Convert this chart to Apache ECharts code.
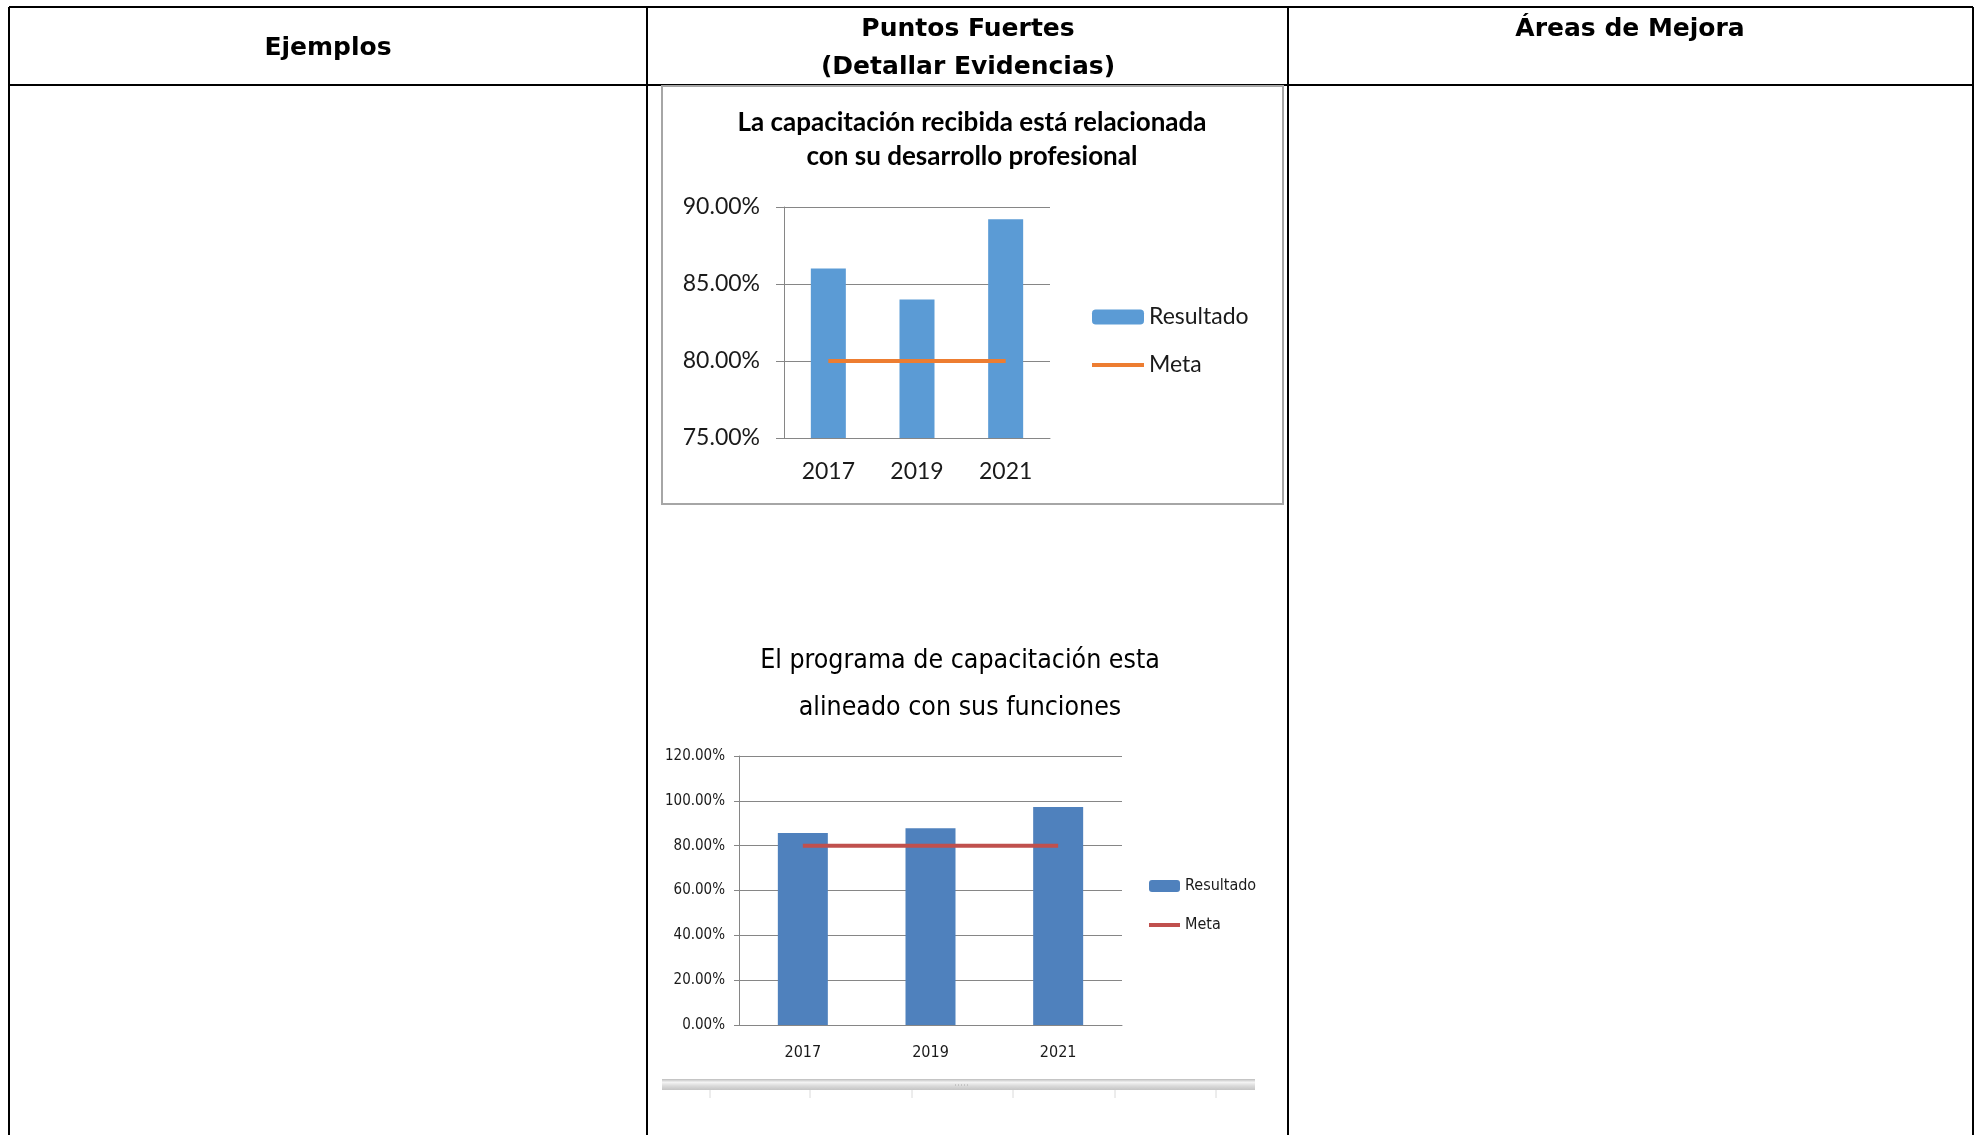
<!DOCTYPE html>
<html>
<head>
<meta charset="utf-8">
<script src="https://cdn.jsdelivr.net/npm/echarts@6/dist/echarts.min.js"></script>
<style>
  html, body { margin: 0; padding: 0; background: #fff; }
  #chart { width: 1977px; height: 1135px; }
</style>
</head>
<body>
<div id="chart"></div>
<script>
// categories and values
const years = ['2017', '2019', '2021']
const resultadoRelacionada = [86.0, 84.0, 89.2]
const metaRelacionada = [80, 80, 80]
const resultadoAlineado = [85.6, 87.8, 97.2]
const metaAlineado = [80, 80, 80]
const ticksTop = [75, 80, 85, 90]
const ticksBottom = [0, 20, 40, 60, 80, 100, 120]
const headers = ['Ejemplos', 'Puntos Fuertes\n(Detallar Evidencias)', 'Áreas de Mejora']

const narrow = '"Liberation Sans Narrow", "DejaVu Sans Condensed", "Roboto", sans-serif'
const gray = '#868686'
const pct = v => v.toFixed(2) + '%'

let myChart = echarts.init(document.getElementById('chart'))

// table lines
let tableLines = [
  [9, 7, 1973, 7],
  [9, 85, 1973, 85],
  [9, 7, 9, 1135],
  [647, 7, 647, 1135],
  [1288, 7, 1288, 1135],
  [1973, 7, 1973, 1135]
].map(l => ({
  type: 'line',
  shape: { x1: l[0], y1: l[1], x2: l[2], y2: l[3] },
  style: { stroke: '#000', lineWidth: 2 }
}))

let headerText = [
  { x: 328, y: 48, text: headers[0] },
  { x: 968, y: 48, text: headers[1] },
  { x: 1630, y: 29, text: headers[2] }
].map(h => ({
  type: 'text',
  x: h.x,
  y: h.y,
  style: {
    text: h.text,
    font: 'bold 25px "DejaVu Sans", sans-serif',
    fill: '#000',
    align: 'center',
    verticalAlign: 'middle',
    lineHeight: 38
  }
}))

// strip under the second chart
let strip = [
  {
    type: 'rect',
    shape: { x: 662, y: 1079, width: 593, height: 11 },
    style: {
      fill: new echarts.graphic.LinearGradient(0, 0, 0, 1, [
        { offset: 0, color: '#bdbdbd' },
        { offset: 0.3, color: '#f4f4f4' },
        { offset: 0.6, color: '#dcdcdc' },
        { offset: 1, color: '#c4c4c4' }
      ])
    }
  }
]
;[710, 810, 912, 1013, 1115, 1216].forEach(x => {
  strip.push({
    type: 'line',
    shape: { x1: x, y1: 1090, x2: x, y2: 1098 },
    style: { stroke: '#dadada', lineWidth: 1 }
  })
})
strip.push({
  type: 'line',
  shape: { x1: 955, y1: 1085, x2: 968, y2: 1085 },
  style: { stroke: '#a8a8a8', lineWidth: 1, lineDash: [1, 2] }
})

let option = {
  animation: false,
  backgroundColor: '#fff',
  title: [
    {
      text: 'La capacitación recibida está relacionada\ncon su desarrollo profesional',
      left: 972,
      top: 106,
      textAlign: 'center',
      padding: 0,
      textStyle: {
        fontFamily: 'Lato, sans-serif',
        fontWeight: 'bold',
        fontSize: 26,
        lineHeight: 34,
        color: '#000'
      }
    },
    {
      text: 'El programa de capacitación esta\nalineado con sus funciones',
      left: 960,
      top: 638,
      textAlign: 'center',
      padding: 0,
      textStyle: {
        fontFamily: narrow,
        fontWeight: 'normal',
        fontSize: 26.5,
        lineHeight: 47,
        color: '#000'
      }
    }
  ],
  legend: [
    {
      orient: 'vertical',
      left: 1090,
      top: 305,
      padding: 0,
      itemWidth: 52,
      itemHeight: 15,
      itemGap: 24,
      data: ['Resultado', { name: 'Meta', itemStyle: { opacity: 0 }, lineStyle: { width: 4 } }],
      textStyle: { fontFamily: 'Lato, sans-serif', fontSize: 23, lineHeight: 24, color: '#1a1a1a' }
    },
    {
      orient: 'vertical',
      left: 1147,
      top: 877,
      padding: 0,
      itemWidth: 31,
      itemHeight: 12,
      itemGap: 21,
      data: ['Resultado|2', { name: 'Meta|2', itemStyle: { opacity: 0 }, lineStyle: { width: 4 } }],
      formatter: name => name.split('|')[0],
      textStyle: { fontFamily: narrow, fontSize: 16, lineHeight: 18, color: '#1a1a1a' }
    }
  ],
  grid: [
    { left: 784, top: 207, width: 266, height: 231 },
    { left: 739, top: 756, width: 383, height: 269 }
  ],
  xAxis: [
    {
      type: 'category',
      gridIndex: 0,
      data: years,
      axisLine: { lineStyle: { color: gray } },
      axisTick: { length: 7, lineStyle: { color: gray } },
      axisLabel: { fontFamily: 'Lato, sans-serif', fontSize: 23, lineHeight: 24, color: '#1a1a1a', margin: 22 }
    },
    {
      type: 'category',
      gridIndex: 1,
      data: years,
      axisLine: { lineStyle: { color: gray } },
      axisTick: { length: 8, lineStyle: { color: gray } },
      axisLabel: { fontFamily: narrow, fontSize: 16, lineHeight: 18, color: '#1a1a1a', margin: 19 }
    }
  ],
  yAxis: [
    {
      type: 'value',
      gridIndex: 0,
      min: ticksTop[0],
      max: ticksTop[ticksTop.length - 1],
      interval: ticksTop[1] - ticksTop[0],
      axisLine: { show: true, lineStyle: { color: gray } },
      axisTick: { show: true, length: 8, lineStyle: { color: gray } },
      splitLine: { lineStyle: { color: gray } },
      axisLabel: { formatter: pct, fontFamily: 'Lato, sans-serif', fontSize: 23, color: '#1a1a1a', margin: 24 }
    },
    {
      type: 'value',
      gridIndex: 1,
      min: ticksBottom[0],
      max: ticksBottom[ticksBottom.length - 1],
      interval: ticksBottom[1] - ticksBottom[0],
      axisLine: { show: true, lineStyle: { color: gray } },
      axisTick: { show: true, length: 5, lineStyle: { color: gray } },
      splitLine: { lineStyle: { color: gray } },
      axisLabel: { formatter: pct, fontFamily: narrow, fontSize: 15, color: '#1a1a1a', margin: 14 }
    }
  ],
  series: [
    {
      name: 'Resultado',
      type: 'bar',
      xAxisIndex: 0,
      yAxisIndex: 0,
      barWidth: 35,
      itemStyle: { color: '#5B9BD5' },
      data: resultadoRelacionada
    },
    {
      name: 'Meta',
      type: 'line',
      xAxisIndex: 0,
      yAxisIndex: 0,
      symbol: 'none',
      lineStyle: { color: '#ED7D31', width: 4 },
      itemStyle: { color: '#ED7D31' },
      data: metaRelacionada
    },
    {
      name: 'Resultado|2',
      type: 'bar',
      xAxisIndex: 1,
      yAxisIndex: 1,
      barWidth: 50,
      itemStyle: { color: '#4F81BD' },
      data: resultadoAlineado
    },
    {
      name: 'Meta|2',
      type: 'line',
      xAxisIndex: 1,
      yAxisIndex: 1,
      symbol: 'none',
      lineStyle: { color: '#C0504D', width: 4 },
      itemStyle: { color: '#C0504D' },
      data: metaAlineado
    }
  ],
  graphic: [
    ...tableLines,
    ...headerText,
    {
      type: 'rect',
      shape: { x: 662, y: 86, width: 621, height: 418 },
      style: { fill: 'none', stroke: '#a6a6a6', lineWidth: 2 }
    },
    ...strip
  ]
}
myChart.setOption(option)
</script>
</body>
</html>
